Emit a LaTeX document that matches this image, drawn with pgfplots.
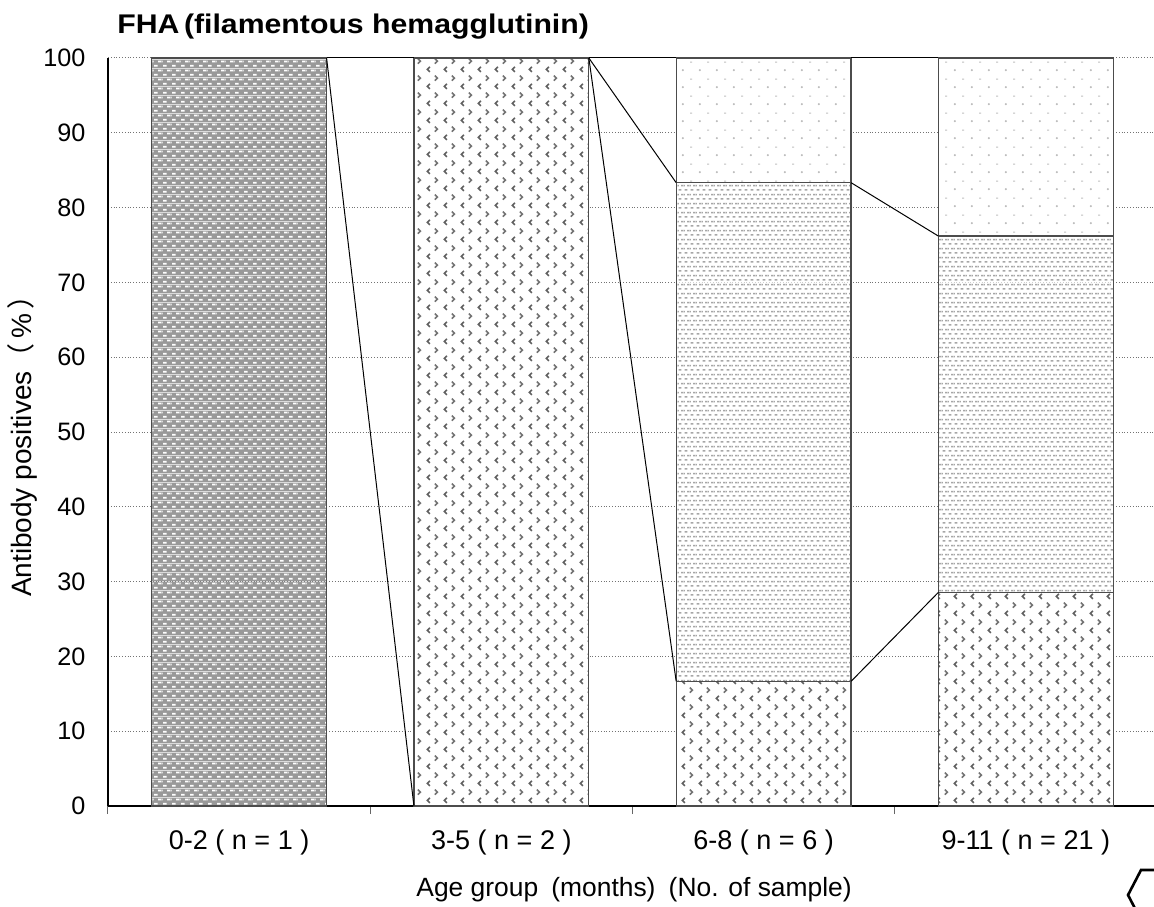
\documentclass[border=0pt]{standalone}
\usepackage{fontspec}
\setmainfont{Liberation Sans}
\newfontfamily\cjk{Noto Sans CJK SC}
\newfontfamily\widesans[FakeStretch=1.12]{Liberation Sans}
\newcommand\lp{{\cjk （}}
\newcommand\rp{{\cjk ）}}
\usepackage{pgfplots}
\pgfplotsset{compat=1.18}
\usetikzlibrary{patterns.meta}

\tikzdeclarepattern{name=fhaA, type=colored,
  bounding box={(0,0) and (4.5pt,4.6pt)}, tile size={(4.5pt,4.6pt)},
  code={
    \fill[black!40] (0,0) rectangle (4.5pt,4.6pt);
    \fill[white] (0.6pt,0.75pt) rectangle (2.6pt,1.65pt);
    \fill[white] (2.85pt,3.05pt) rectangle (4.5pt,3.95pt);
    \fill[white] (0pt,3.05pt) rectangle (0.35pt,3.95pt);
  }}
\tikzdeclarepattern{name=fhaB, type=colored,
  bounding box={(0,0) and (8.5pt,8.6pt)}, tile size={(8.5pt,8.6pt)},
  code={
    \fill[white] (0,0) rectangle (8.5pt,8.6pt);
    \draw[black!62, line width=0.8pt] (2.6pt,0.6pt) -- (1.2pt,1.9pt) -- (2.6pt,3.2pt);
    \draw[black!55, line width=0.8pt] (5.2pt,4.9pt) -- (6.6pt,6.2pt) -- (5.2pt,7.5pt);
  }}
\tikzdeclarepattern{name=fhaC, type=colored,
  bounding box={(0,0) and (3pt,4.4pt)}, tile size={(3pt,4.4pt)},
  code={
    \fill[white] (0,0) rectangle (3pt,4.4pt);
    \fill[black!35] (0.3pt,0.65pt) rectangle (2.0pt,1.45pt);
    \fill[black!35] (1.8pt,2.85pt) rectangle (3pt,3.65pt);
    \fill[black!35] (0pt,2.85pt) rectangle (0.5pt,3.65pt);
  }}
\tikzdeclarepattern{name=fhaD, type=colored,
  bounding box={(0,0) and (8.5pt,8.5pt)}, tile size={(8.5pt,8.5pt)},
  code={
    \fill[white] (0,0) rectangle (8.5pt,8.5pt);
    \fill[black!28] (1.5pt,1.5pt) circle (0.6pt);
    \fill[black!25] (5.4pt,5.5pt) rectangle (6.4pt,5.95pt);
  }}

\pgfplotstableread{
x s1 s2 s3 s4
0 100 0 0 0
1 0 100 0 0
2 0 16.67 66.66 16.67
3 0 28.57 47.62 23.81
}\fhadata

\begin{document}
\begin{tikzpicture}
\pgfplotsset{fhabase/.style={
  at={(0,0)}, anchor=south west,
  scale only axis, width=524.5pt, height=374pt,
  xmin=-0.5, xmax=3.5, ymin=0, ymax=100,
  enlarge x limits=false, enlarge y limits=false,
}}
\begin{axis}[fhabase,
  ybar stacked, bar width=0.667,
  axis lines=left, axis line style={-, black, line width=0.6pt},
  xtick={0,1,2,3},
  xticklabels={0-2 ( n = 1 ), 3-5 ( n = 2 ), 6-8 ( n = 6 ), 9-11 ( n = 21 )},
  minor xtick={-0.5,0.5,1.5,2.5},
  major tick length=0pt, minor tick length=4pt,
  tick align=outside,
  minor tick style={black!60, line width=0.5pt},
  ytick={0,10,...,100},
  ytick style={draw=none},
  ymajorgrids=true,
  grid style={black!55, densely dotted, line width=0.5pt},
  xticklabel style={font=\fontsize{13.5}{15}\selectfont, anchor=base, yshift=-21.6pt},
  yticklabel style={font=\fontsize{12.6}{15}\selectfont, xshift=-7.8pt},
  /pgf/number format/assume math mode=true,
]
\addplot[pattern=fhaA, draw=black!70, line width=0.6pt] table[x=x,y=s1] {\fhadata};
\addplot[pattern=fhaB, draw=black!70, line width=0.6pt] table[x=x,y=s2] {\fhadata};
\addplot[pattern=fhaC, draw=black!70, line width=0.6pt] table[x=x,y=s3] {\fhadata};
\addplot[pattern=fhaD, draw=black!70, line width=0.6pt] table[x=x,y=s4] {\fhadata};
\end{axis}
\begin{axis}[fhabase, hide axis]
% series lines between stacked segments
\addplot[black, line width=0.5pt] coordinates {(0.3335,100) (0.6665,0)};
\addplot[black, line width=0.5pt] coordinates {(0.3335,100) (0.6665,100)};
\addplot[black, line width=0.5pt] coordinates {(1.3335,100) (1.6665,16.67)};
\addplot[black, line width=0.5pt] coordinates {(1.3335,100) (1.6665,83.33)};
\addplot[black, line width=0.5pt] coordinates {(1.3335,100) (1.6665,100)};
\addplot[black, line width=0.5pt] coordinates {(2.3335,16.67) (2.6665,28.57)};
\addplot[black, line width=0.5pt] coordinates {(2.3335,83.33) (2.6665,76.19)};
\addplot[black, line width=0.5pt] coordinates {(2.3335,100) (2.6665,100)};
\end{axis}
\node[anchor=base west, inner sep=0pt, font=\widesans\bfseries\fontsize{13.5}{15}\selectfont] at (4.5pt,386.3pt) {FHA\,(filamentous hemagglutinin)};
\node[rotate=90, font=\fontsize{14}{16}\selectfont] at (-42.6pt,183.5pt) {Antibody positives\lp\,\%\,\rp};
\node[anchor=base west, inner sep=0pt, font=\fontsize{13.2}{15}\selectfont] at (154pt,-45.3pt) {Age group\hspace{0.5em}(months)\hspace{0.5em}(No. of sample)};
\draw[black, line width=1.3pt] (525pt,-32pt) -- (516.5pt,-32pt) -- (510pt,-44.5pt) -- (516.5pt,-57pt);
\pgfresetboundingbox
\path[use as bounding box] (-54pt,-50pt) rectangle (523pt,403pt);
\end{tikzpicture}
\end{document}
